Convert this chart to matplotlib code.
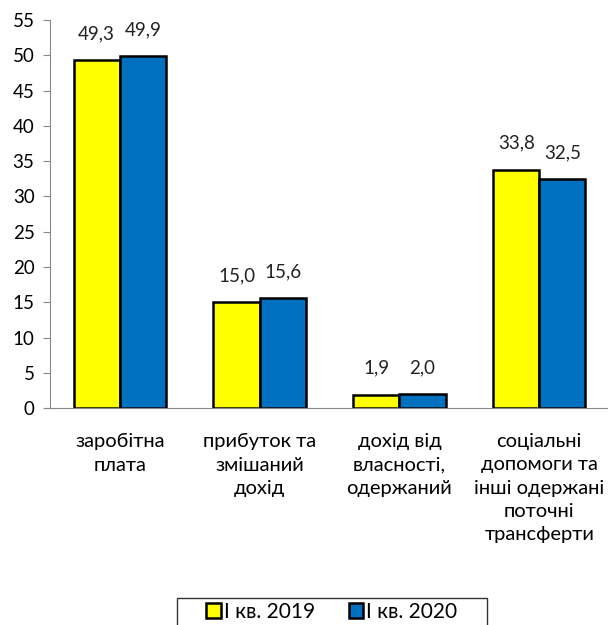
import matplotlib.pyplot as plt
import matplotlib.patches as mpatches
import numpy as np

plt.rcParams['font.family'] = ['Lato', 'DejaVu Sans']

categories = ['заробітна\nплата', 'прибуток та\nзмішаний\nдохід',
              'дохід від\nвласності,\nодержаний',
              'соціальні\nдопомоги та\nінші одержані\nпоточні\nтрансферти']
q1_2019 = [49.3, 15.0, 1.9, 33.8]
q1_2020 = [49.9, 15.6, 2.0, 32.5]
series_names = ['І кв. 2019', 'І кв. 2020']
yticks = np.arange(0, 56, 5)

fig = plt.figure(figsize=(6.08, 6.25), dpi=100)
ax = fig.add_axes([0.082, 0.347, 0.92, 0.621])

x = np.arange(len(categories))
w = 0.33
b1 = ax.bar(x - w / 2, q1_2019, w, color='#FFFF00', edgecolor='black', linewidth=1.8, label=series_names[0])
b2 = ax.bar(x + w / 2, q1_2020, w, color='#0070C0', edgecolor='black', linewidth=1.8, label=series_names[1])

for bars, vals in ((b1, q1_2019), (b2, q1_2020)):
    for rect, v in zip(bars, vals):
        ax.annotate(f'{v:.1f}'.replace('.', ','),
                    (rect.get_x() + rect.get_width() / 2, rect.get_height()),
                    xytext=(0, 19), textcoords='offset points',
                    ha='center', va='center', fontsize=13.5, color='#222222')

ax.set_xlim(-0.5, len(categories) - 0.5)
ax.set_ylim(0, 55)
ax.set_yticks(yticks)
ax.set_xticks(x)
ax.set_xticklabels(categories, fontsize=14.5, linespacing=1.45, va='top')
ax.tick_params(axis='x', length=0, pad=18)
ax.tick_params(axis='y', labelsize=13.5, length=5, color='#888888', pad=6)

for s in ('top', 'right'):
    ax.spines[s].set_visible(False)
ax.spines['left'].set_color('#888888')
ax.spines['bottom'].set_color('#888888')
ax.spines['bottom'].set_bounds(-0.53, len(categories) - 0.5)

# legend: text without frame, frame drawn as a separate box (clipped at the bottom)
fig.legend(loc='center', bbox_to_anchor=(0.546, 0.021), ncol=2,
           fontsize=15, frameon=False,
           handlelength=0.7, handleheight=0.7, handletextpad=0.15,
           columnspacing=1.6)
fig.patches.append(mpatches.Rectangle((0.291, -0.02), 0.51, 0.063,
                                      transform=fig.transFigure, fill=False,
                                      edgecolor='#333333', linewidth=1.0))

fig.savefig('out.png', dpi=100)
